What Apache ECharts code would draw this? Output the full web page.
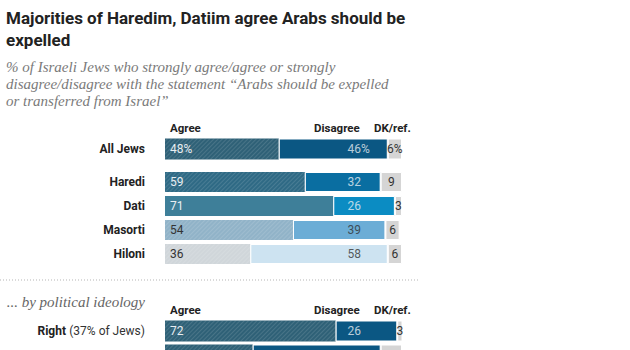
<!DOCTYPE html>
<html>
<head>
<meta charset="utf-8">
<script src="https://cdn.jsdelivr.net/npm/echarts@6/dist/echarts.min.js"></script>
<style>
  html, body { margin: 0; padding: 0; background: #fff; }
  #chart { width: 630px; height: 350px; }
</style>
</head>
<body>
<div id="chart"></div>
<script>
// data
var allCats = ['All Jews'];
var allAgree = [48];
var allDisagree = [46];
var allDk = [6];

var groupCats = ['Haredi', 'Dati', 'Masorti', 'Hiloni'];
var groupAgree = [59, 71, 54, 36];
var groupDisagree = [32, 26, 39, 58];
var groupDk = [9, 3, 6, 6];

// second ideology row is cut off by the bottom edge: only its bar top shows
var ideoCats = ['Right', 'Center'];
var ideoShare = ['37% of Jews', ''];
var ideoAgree = [72, 37];
var ideoDisagree = [26, 54];
var ideoDk = [3, 9];

var headers = ['Agree', 'Disagree', 'DK/ref.'];

// styles
var hatch = {
    symbol: 'rect',
    symbolSize: 1,
    dashArrayX: [1, 0],
    dashArrayY: [1, 2],
    rotation: -Math.PI / 4,
    color: 'rgba(255,255,255,0.12)'
}
var sans = 'Roboto, "Liberation Sans", sans-serif'
var serif = '"Liberation Serif", "DejaVu Serif", serif'

var blocks = [
    {
        cats: allCats, agree: allAgree, disagree: allDisagree, dk: allDk, suffix: '%',
        top: 138, height: 22, barWidth: 21, labelRows: 1,
        agreeColor: ['#2f6177'], disColor: ['#0b5783'],
        agreeHatch: [true], agreeText: ['#e8eef2'], disText: ['#e8eef2']
    },
    {
        cats: groupCats, agree: groupAgree, disagree: groupDisagree, dk: groupDk, suffix: '',
        top: 170, height: 96, barWidth: 20, labelRows: 4,
        agreeColor: ['#2f6a85', '#3e7f99', '#91b3c8', '#d0d6da'],
        disColor: ['#0a6ea1', '#0b8cc3', '#6cadd6', '#cde3f1'],
        agreeHatch: [true, false, true, true],
        agreeText: ['#e8eef2', '#e8eef2', '#333', '#333'],
        disText: ['#e8eef2', '#e8eef2', '#333', '#333']
    },
    {
        cats: ideoCats, agree: ideoAgree, disagree: ideoDisagree, dk: ideoDk, suffix: '',
        top: 319, height: 48, barWidth: 21, labelRows: 1,
        agreeColor: ['#2f6177', '#2f6177'], disColor: ['#0b5783', '#0b5783'],
        agreeHatch: [true, true],
        agreeText: ['#e8eef2', '#e8eef2'], disText: ['#e8eef2', '#e8eef2']
    }
]

var grids = [], xAxes = [], yAxes = [], series = []

blocks.forEach(function (b, i) {
    grids.push({ left: 165, width: 237, top: b.top, height: b.height, outerBoundsMode: 'none' })
    xAxes.push({
        type: 'value', gridIndex: i, min: 0, max: 100, show: false
    })
    yAxes.push({
        type: 'category', gridIndex: i, data: b.cats, inverse: true,
        axisLine: { show: false }, axisTick: { show: false },
        axisLabel: {
            margin: 20,
            formatter: function (v, idx) {
                if (idx >= b.labelRows) return ''
                if (i === 2) return '{b|' + v + '} {n|(' + ideoShare[idx] + ')}'
                return '{b|' + v + '}'
            },
            rich: {
                b: { fontFamily: sans, fontWeight: 'bold', fontSize: 12, color: '#222' },
                n: { fontFamily: sans, fontSize: 12, color: '#333' }
            }
        }
    })
    series.push({
        type: 'bar', stack: 's' + i, xAxisIndex: i, yAxisIndex: i, barWidth: b.barWidth,
        data: b.agree.map(function (v, k) {
            var style = { color: b.agreeColor[k] }
            if (b.agreeHatch[k]) style.decal = hatch
            return { value: v, itemStyle: style, label: { color: b.agreeText[k], show: k < b.labelRows } }
        }),
        label: {
            show: true, position: 'insideLeft', distance: 5,
            fontFamily: sans, fontSize: 12,
            formatter: function (p) { return p.value + b.suffix }
        }
    })
    series.push({
        type: 'bar', stack: 's' + i, xAxisIndex: i, yAxisIndex: i, barWidth: b.barWidth,
        data: b.disagree.map(function (v, k) {
            return { value: v, itemStyle: { color: b.disColor[k] } }
        }),
        itemStyle: { borderColor: '#fff', borderWidth: 1 }
    })
    series.push({
        type: 'bar', stack: 's' + i, xAxisIndex: i, yAxisIndex: i, barWidth: b.barWidth,
        data: b.dk.map(function (v, k) {
            return { value: v, label: { show: k < b.labelRows } }
        }),
        itemStyle: { color: '#d5d5d5', borderColor: '#fff', borderWidth: 1 },
        label: {
            show: true, position: 'inside',
            fontFamily: sans, fontSize: 12, color: '#333',
            formatter: function (p) { return p.value + b.suffix }
        }
    })
    // disagree numbers sit on a common left edge
    series.push({
        type: 'scatter', xAxisIndex: i, yAxisIndex: i, symbolSize: 0, silent: true,
        data: b.disagree.slice(0, b.labelRows).map(function (v, k) {
            return { value: [77, k], label: { color: b.disText[k] } }
        }),
        label: {
            show: true, position: 'right', distance: 0,
            fontFamily: sans, fontSize: 12,
            formatter: function (p) { return b.disagree[p.dataIndex] + b.suffix }
        }
    })
})

function headerTexts(y) {
    var xs = [170, 314, 374]
    return headers.map(function (h, k) {
        return {
            type: 'text', x: xs[k], y: y,
            style: {
                text: h, font: 'bold 11.5px ' + sans, fill: '#222',
                textVerticalAlign: 'middle'
            }
        }
    })
}

var graphics = [
    { type: 'text', x: 6, y: 18, style: { text: 'Majorities of Haredim, Datiim agree Arabs should be', font: 'bold 17px ' + sans, fill: '#222', textVerticalAlign: 'middle' } },
    { type: 'text', x: 6, y: 40, style: { text: 'expelled', font: 'bold 17px ' + sans, fill: '#222', textVerticalAlign: 'middle' } },
    { type: 'text', x: 6, y: 67, style: { text: '% of Israeli Jews who strongly agree/agree or strongly', font: 'italic 15px ' + serif, fill: '#7a7a7a', textVerticalAlign: 'middle' } },
    { type: 'text', x: 6, y: 84, style: { text: 'disagree/disagree with the statement \u201cArabs should be expelled', font: 'italic 15px ' + serif, fill: '#7a7a7a', textVerticalAlign: 'middle' } },
    { type: 'text', x: 6, y: 101, style: { text: 'or transferred from Israel\u201d', font: 'italic 15px ' + serif, fill: '#7a7a7a', textVerticalAlign: 'middle' } },
    { type: 'line', shape: { x1: 0, y1: 280, x2: 418, y2: 280 }, style: { stroke: '#b5b5b5', lineWidth: 1, lineDash: [1, 2] } },
    { type: 'text', x: 145, y: 302, style: { text: '... by political ideology', font: 'italic 15px ' + serif, fill: '#666', textAlign: 'right', textVerticalAlign: 'middle' } }
].concat(headerTexts(128)).concat(headerTexts(310))

var chart = echarts.init(document.getElementById('chart'), null, { renderer: 'svg' })
chart.setOption({
    animation: false,
    grid: grids,
    xAxis: xAxes,
    yAxis: yAxes,
    series: series,
    graphic: graphics
})
</script>
</body>
</html>
